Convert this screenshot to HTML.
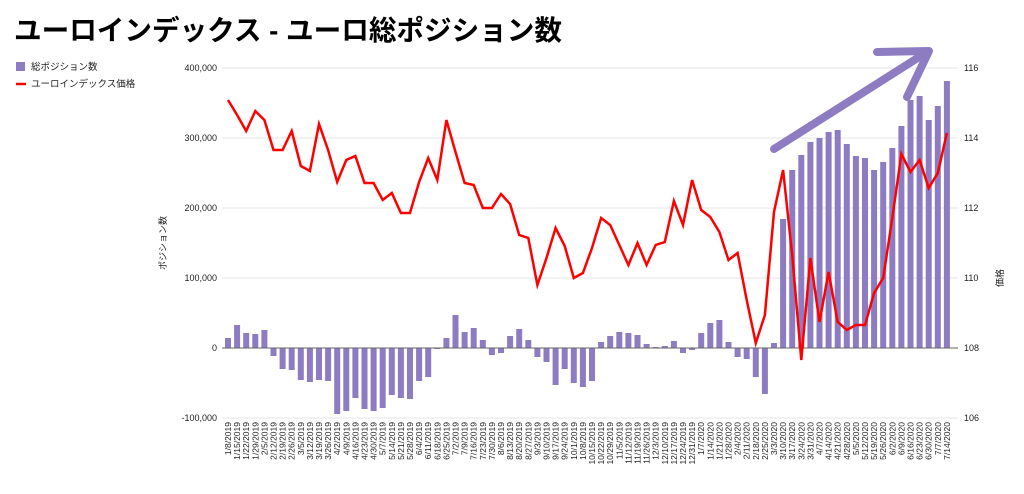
<!DOCTYPE html>
<html><head><meta charset="utf-8"><style>
body{margin:0;background:#fff;width:1024px;height:489px;overflow:hidden;font-family:"Liberation Sans","Noto Sans CJK JP",sans-serif}
</style></head><body>
<svg id="s" width="1024" height="489" xmlns="http://www.w3.org/2000/svg" font-family="Liberation Sans, Noto Sans CJK JP, sans-serif">
<text x="14" y="40" font-size="27.6" font-weight="bold" fill="#000">ユーロインデックス - ユーロ総ポジション数</text>
<rect x="16" y="62" width="9" height="9" fill="#8e7cc3"/>
<text x="31" y="70" font-size="9.5" fill="#222">総ポジション数</text>
<line x1="16" y1="84" x2="26" y2="84" stroke="#ff0000" stroke-width="2.5"/>
<text x="31" y="87" font-size="9.5" fill="#222">ユーロインデックス価格</text>
<text transform="translate(166,243) rotate(-90)" font-size="9" text-anchor="middle" fill="#222">ポジション数</text>
<text transform="translate(1003,278) rotate(-90)" font-size="9" text-anchor="middle" fill="#222">価格</text>
<g id="g"></g>
</svg>
<script>
var ns="http://www.w3.org/2000/svg",g=document.getElementById('g');
function el(t,a,txt){var e=document.createElementNS(ns,t);for(var k in a)e.setAttribute(k,a[k]);if(txt!=null)e.textContent=txt;g.appendChild(e);return e;}
var L=["400,000","300,000","200,000","100,000","0","-100,000"],R=["116","114","112","110","108","106"];
for(var i=0;i<6;i++){var y=68+i*70;
 if(i!=4)el('line',{x1:222,x2:958,y1:y,y2:y,stroke:'#e4e4e4','stroke-width':1});
 el('text',{x:217,y:y+3,'font-size':9,'text-anchor':'end',fill:'#222'},L[i]);
 el('text',{x:964,y:y+3,'font-size':9,fill:'#222'},R[i]);}
var bars=[10,23,15,14,18,-8,-21,-22,-32,-34,-32,-33,-66,-63,-50,-61,-63,-60,-47,-50,-51,-33,-29,-1,10,33,16,20,8,-7,-5,12,19,8,-9,-14,-37,-21,-35,-39,-33,6,12,16,15,13,4,1,2,7,-5,-2,15,25,28,6,-9,-11,-29,-46,5,129,178,193,206,210,216,218,204,192,190,178,186,200,222,248,252,228,242,267];
var line=[100,115,131,111,120,150,150,131,166,171,124,150,182,160,156,183,183,200,193,213,213,182,158,180,120,152,183,185,208,208,194,204,235,238,285,258,228,246,278,273,248,218,225,245,265,243,265,245,242,201,225,180,210,217,232,260,253,300,343,315,212,170,255,360,258,322,272,322,330,325,325,293,278,218,154,172,160,188,173,133];
var x0=228,st=9.1,pts=[];
var d=new Date(2019,0,8);
for(var i=0;i<80;i++){var x=x0+i*st,h=bars[i];
 el('rect',{x:x-3,y:h>0?348-h:348,width:6,height:Math.max(Math.abs(h),0.8),fill:'#8e7cc3'});
 pts.push(x.toFixed(1)+','+line[i]);
 var lab=(d.getMonth()+1)+'/'+d.getDate()+'/'+d.getFullYear();
 el('text',{transform:'translate('+(x+3)+',422) rotate(-90)','font-size':8.5,'text-anchor':'end',fill:'#222'},lab);
 d.setDate(d.getDate()+7);}
el('line',{x1:222,x2:958,y1:348,y2:348,stroke:'#666','stroke-width':1});
el('polyline',{points:pts.join(' '),fill:'none',stroke:'#ff0000','stroke-width':2.5,'stroke-linejoin':'miter'});
el('line',{x1:774,y1:149,x2:927,y2:52,stroke:'#8e7cc3','stroke-width':8,'stroke-linecap':'round'});
el('polyline',{points:'877,52 929,51 907,97',fill:'none',stroke:'#8e7cc3','stroke-width':8,'stroke-linecap':'round','stroke-linejoin':'round'});
</script>
</body></html>
